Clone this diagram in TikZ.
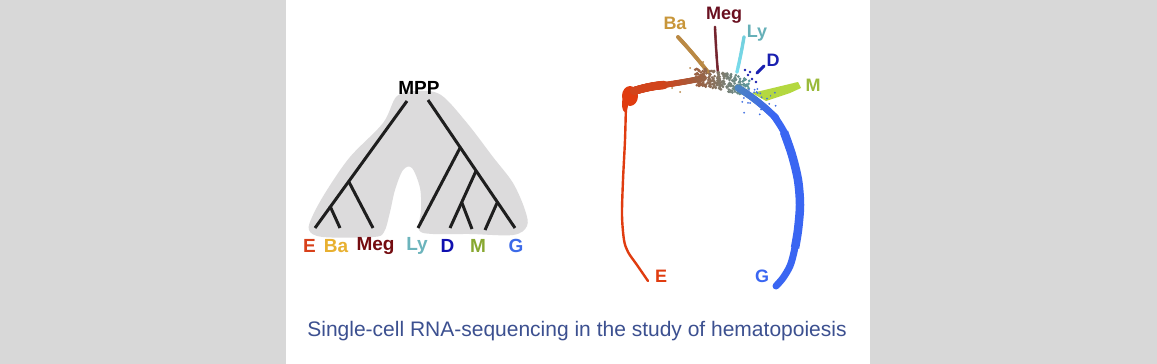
\documentclass[tikz,border=0pt]{standalone}
\usepackage{fontspec}
\setmainfont{Liberation Sans}
\definecolor{bggrey}{HTML}{D8D8D8}
\definecolor{blobgrey}{HTML}{DCDBDC}
\definecolor{treeline}{HTML}{1E1E1E}
\definecolor{cE}{HTML}{D8401A}
\definecolor{cBa}{HTML}{E8B030}
\definecolor{cMeg}{HTML}{740C10}
\definecolor{cLy}{HTML}{6CB4BC}
\definecolor{cD}{HTML}{1010B0}
\definecolor{cM}{HTML}{88A830}
\definecolor{cG}{HTML}{3C6AE8}
\definecolor{pBa}{HTML}{C8963A}
\definecolor{pMeg}{HTML}{6A1020}
\definecolor{pLy}{HTML}{66B0B8}
\definecolor{pM}{HTML}{9ABA3A}
\definecolor{sRed}{HTML}{E03C10}
\definecolor{sBrown}{HTML}{9A6244}
\definecolor{sOlive}{HTML}{8A8060}
\definecolor{sTeal}{HTML}{5A9AA0}
\definecolor{sBlue}{HTML}{3A66F2}
\definecolor{sCyan}{HTML}{78DCEC}
\definecolor{sLime}{HTML}{B4D840}
\definecolor{sGold}{HTML}{C89A44}
\definecolor{sMeg}{HTML}{6B1428}
\definecolor{sDblue}{HTML}{1A20B0}
\definecolor{capblue}{HTML}{3C5090}
\newcommand\qtrail[9]{%
  \foreach \t in {0,0.02,...,1.001}{%
    \pgfmathsetmacro\qx{(1-\t)^2*#1+2*(1-\t)*\t*#3+\t^2*#5}%
    \pgfmathsetmacro\qy{(1-\t)^2*#2+2*(1-\t)*\t*#4+\t^2*#6}%
    \pgfmathtruncatemacro\qc{100*(1-\t)}%
    \fill[#8!\qc!#9] (\qx,\qy) circle (#7);
  }}
\begin{document}
\begin{tikzpicture}[x=1pt,y=-1pt,
  treeedge/.style={draw=treeline,line width=3pt},
  leaflab/.style={font=\bfseries\fontsize{19}{19}\selectfont,inner sep=0pt,anchor=center},
  plotlab/.style={font=\bfseries\fontsize{18}{18}\selectfont,inner sep=0pt,anchor=center}]
\useasboundingbox (0,0) rectangle (1157,364);
\fill[bggrey] (0,0) rectangle (1157,364);
\fill[white] (286,0) rectangle (870,364);

% grey blob
\fill[blobgrey] plot[smooth cycle, tension=0.55] coordinates {
  (418,91) (441,95) (467,123) (493,157) (513,183) (525,210) (527,226)
  (513,235) (470,234) (433,234) (419,230) (421,210) (420,188) (412,168)
  (403,170) (395,190) (390,212) (384,232) (373,237) (323,237) (309,230) (313,215)
  (327,190) (350,157) (383,123) (397,96)};

% tree
\node[font=\bfseries\fontsize{19}{19}\selectfont,inner sep=0pt] (mpp) at (419,88) {MPP};
\coordinate (lr) at (407,101);
\coordinate (rr) at (428,100);
\coordinate (nMeg) at (349,182);
\coordinate (nBa) at (330,206);
\coordinate (nLy) at (460,148);
\coordinate (nDMtop) at (476,171);
\coordinate (nDM) at (462,203);
\coordinate (nMG) at (497,203);
\coordinate (eE) at (315,228);
\coordinate (eBa) at (340,228);
\coordinate (eMeg) at (373,228);
\coordinate (eLy) at (418,228);
\coordinate (eD) at (450,228);
\coordinate (eM) at (472,229);
\coordinate (eM2) at (485,230);
\coordinate (eG) at (515,228);
\draw[treeedge] (lr) -- (eE);
\draw[treeedge] (nMeg) -- (eMeg);
\draw[treeedge] (nBa) -- (eBa);
\draw[treeedge] (rr) -- (eG);
\draw[treeedge] (nLy) -- (eLy);
\draw[treeedge] (nDMtop) -- (eD);
\draw[treeedge] (nDM) -- (eM);
\draw[treeedge] (nMG) -- (eM2);

\node[leaflab,text=cE] (lE) at (309.5,246) {E};
\node[leaflab,text=cBa] (lBa) at (336,246) {Ba};
\node[leaflab,text=cMeg] (lMeg) at (375.5,246) {Meg};
\node[leaflab,text=cLy] (lLy) at (417,246) {Ly};
\node[leaflab,text=cD] (lD) at (447.5,246) {D};
\node[leaflab,text=cM] (lM) at (478,246) {M};
\node[leaflab,text=cG] (lG) at (516,246) {G};

% ---- scatter plot ----
% red vertical trail
\draw[sRed,line width=2.4pt,line cap=round] plot[smooth] coordinates {
  (626,104) (625,140) (623,180) (622,215) (624,240) (628,252) (637,265) (648,281)};
% red blob
\fill[sRed] (630,96) ellipse (8 and 10);
\fill[sRed] (625,104) ellipse (3 and 8);
% top arc red -> brown
\qtrail{634}{91}{650}{86}{664}{85}{4.2}{sRed}{sRed!80!sBrown}
\qtrail{664}{85}{685}{82}{704}{78}{3}{sRed!80!sBrown}{sBrown}
% Ba branch
\qtrail{678}{37}{692}{52}{708}{72}{2}{sGold}{sGold!70!sBrown}
% Meg branch
\qtrail{715}{27}{716}{50}{718}{73}{1.4}{sMeg}{sMeg!80!sBrown}
% Ly branch
\qtrail{744}{37}{741}{55}{737}{72}{1.8}{sCyan!80!sTeal}{sCyan}
% D
\draw[sDblue,line width=3pt,line cap=round] (757,73) -- (764,66);
% M fan
\fill[sLime] (752,93) -- (798,82) -- (801,88) -- (790,93) -- (766,101) -- cycle;
% central mass
\pgfmathsetseed{7}
\foreach \i in {1,...,260}{%
  \pgfmathsetmacro\dx{695+55*rnd}%
  \pgfmathsetmacro\dy{76+(\dx-695)*0.2+9*rand}%
  \pgfmathtruncatemacro\mx{min(100,max(0,100*(\dx-700)/50))}%
  \fill[sTeal!\mx!sBrown] (\dx,\dy) circle (1.5);
}
% blue trail
\qtrail{738}{88}{758}{100}{776}{118}{3.5}{sTeal!60!sBlue}{sBlue}
\draw[sBlue,line width=7pt,line cap=round] plot[smooth] coordinates {
  (774,116) (784,132) (792,155) (798,180) (800,205) (798,230) (794,252) (790,266) (783,278) (776,286)};
\draw[sBlue,line width=8.5pt,line cap=butt] plot[smooth] coordinates {
  (784,132) (792,155) (798,180) (800,205) (798,230) (795,248)};
% scattered dots
\foreach \i in {1,...,25}{%
  \pgfmathsetmacro\dx{742+35*rnd}%
  \pgfmathsetmacro\dy{88+28*rnd}%
  \fill[sBlue!80!sTeal] (\dx,\dy) circle (1);
}
\foreach \p in {(748,75),(752,79),(745,70),(756,82),(750,72)}{\fill[sDblue] \p circle (1.3);}
\foreach \p in {(780,90),(788,86),(795,84),(772,96),(785,92)}{\fill[sLime] \p circle (1.3);}
\foreach \p in {(680,92),(672,88),(703,62),(697,58),(690,68)}{\fill[sGold!60!sBrown] \p circle (1);}

% plot labels
\node[plotlab,text=pBa] (pBa) at (675,23) {Ba};
\node[plotlab,text=pMeg] (pMeg) at (724,15) {Meg};
\node[plotlab,text=pLy] (pLy) at (757,33) {Ly};
\node[plotlab,text=sDblue] (pD) at (773,60) {D};
\node[plotlab,text=pM] (pM) at (813,85) {M};
\node[plotlab,text=sRed] (pE) at (661,276) {E};
\node[plotlab,text=sBlue] (pG) at (762,276) {G};

% caption
\node[font=\fontsize{21}{21}\selectfont,text=capblue,inner sep=0pt,anchor=base] (cap) at (577,336)
  {Single-cell RNA-sequencing in the study of hematopoiesis};
\end{tikzpicture}
\end{document}
